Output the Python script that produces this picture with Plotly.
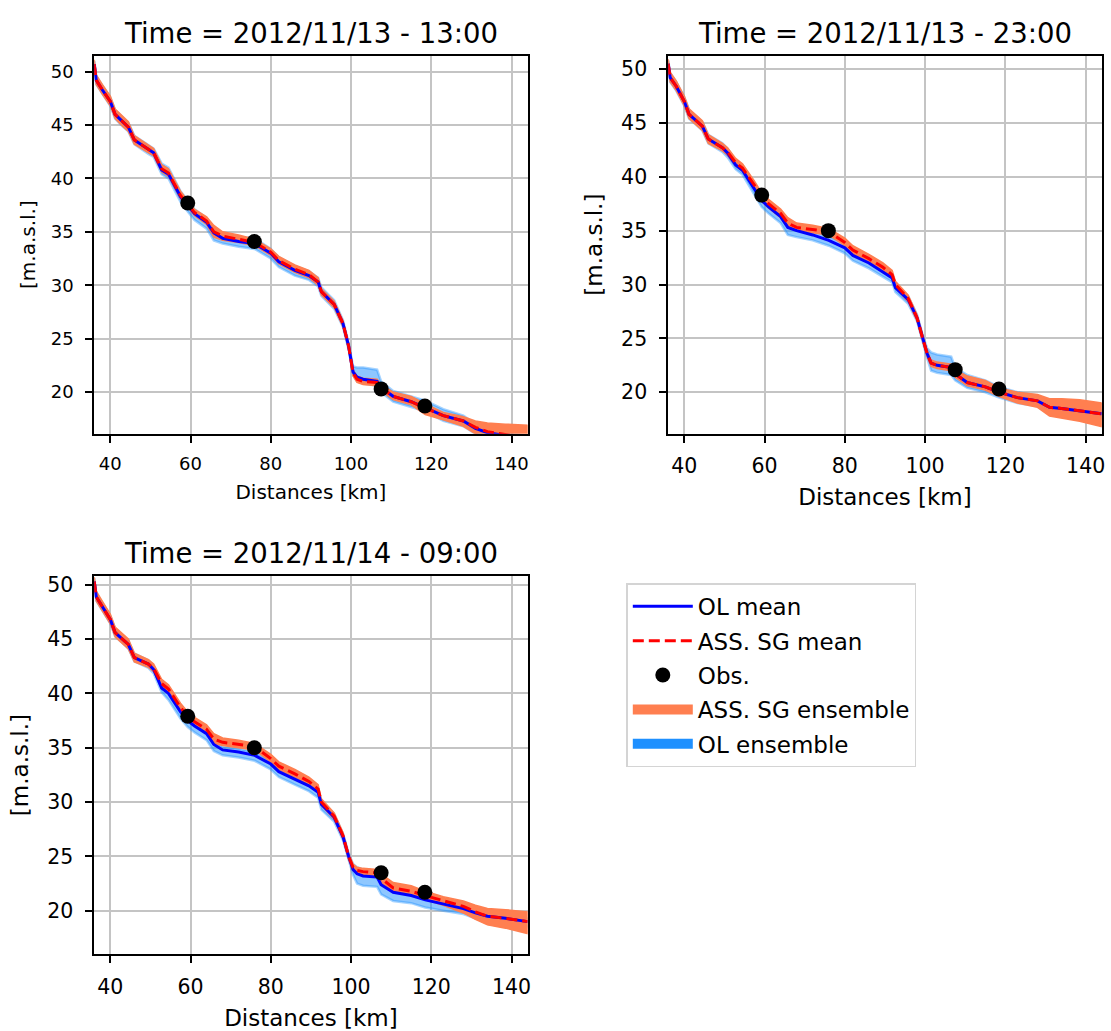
import plotly.graph_objects as go

# ---------------- data ----------------
dist_km = [36, 36.5, 38, 40, 41.2, 43, 44.5, 46, 49.5, 50.8,
           52.8, 54.5, 57.5, 59.3, 61, 64, 65.8, 68, 72, 76,
           80, 82, 86, 89.5, 91.8, 92.6, 95.8, 98, 99.4, 100.5,
           101.5, 103, 106.5, 107.5, 110.5, 115, 118.5, 123, 128, 131,
           134, 138.5, 144]

titles = ["Time = 2012/11/13 - 13:00", "Time = 2012/11/13 - 23:00", "Time = 2012/11/14 - 09:00"]

obs_km = [59.3, 75.9, 107.5, 118.4]
p1_obs = [37.7, 34.1, 20.3, 18.7]
p2_obs = [38.3, 35.0, 22.1, 20.3]
p3_obs = [37.9, 35.0, 23.5, 21.7]

# panel 1
p1_ol_mean = [50.7, 49.2, 48.3, 47.2, 46.0, 45.3, 44.8, 43.6, 42.7, 42.4,
              40.8, 40.4, 38.3, 37.5, 36.7, 35.9, 34.9, 34.4, 34.1, 33.9,
              33.0, 32.2, 31.4, 30.9, 30.3, 29.4, 28.2, 26.4, 24.3, 21.9,
              21.4, 21.2, 21.0, 20.4, 19.6, 19.1, 18.5, 17.8, 17.3, 16.6,
              16.2, 15.9, 15.6]
p1_ass_mean = [50.7, 49.2, 48.3, 47.2, 46.0, 45.3, 44.8, 43.6, 42.7, 42.4,
               40.9, 40.5, 38.4, 37.6, 36.8, 36.0, 35.0, 34.6, 34.3, 34.0,
               33.1, 32.3, 31.5, 31.0, 30.3, 29.4, 28.2, 26.4, 24.3, 21.8,
               21.2, 21.0, 20.9, 20.4, 19.6, 19.1, 18.5, 17.8, 17.3, 16.7,
               16.3, 16.0, 15.7]
p1_ol_up = [0.3, 0.4, 0.4, 0.4, 0.4, 0.4, 0.4, 0.4, 0.4, 0.4,
            0.6, 0.6, 0.5, 0.4, 0.4, 0.4, 0.4, 0.4, 0.4, 0.5,
            0.4, 0.4, 0.4, 0.4, 0.4, 0.4, 0.4, 0.3, 0.3, 0.5,
            0.9, 1.1, 1.1, 0.6, 0.5, 0.5, 0.7, 0.6, 0.5, 0.4,
            0.3, 0.3, 0.3]
p1_ol_dn = [0.3, 0.4, 0.4, 0.4, 0.4, 0.4, 0.4, 0.4, 0.4, 0.4,
            0.4, 0.4, 0.5, 0.6, 0.6, 0.6, 0.7, 0.5, 0.5, 0.5,
            0.5, 0.5, 0.5, 0.4, 0.4, 0.4, 0.4, 0.3, 0.3, 0.3,
            0.4, 0.4, 0.4, 0.4, 0.5, 0.5, 0.3, 0.5, 0.5, 0.5,
            0.5, 0.5, 0.5]
p1_ass_up = [0.4, 0.5, 0.5, 0.5, 0.5, 0.5, 0.5, 0.4, 0.4, 0.4,
             0.4, 0.4, 0.4, 0.3, 0.3, 0.4, 0.6, 0.4, 0.4, 0.3,
             0.3, 0.4, 0.4, 0.4, 0.4, 0.3, 0.3, 0.3, 0.3, 0.3,
             0.3, 0.3, 0.3, 0.3, 0.4, 0.5, 0.4, 0.3, 0.4, 0.6,
             0.8, 1.0, 1.2]
p1_ass_dn = [0.4, 0.4, 0.4, 0.4, 0.4, 0.4, 0.4, 0.4, 0.3, 0.3,
             0.3, 0.3, 0.3, 0.3, 0.3, 0.3, 0.5, 0.4, 0.3, 0.3,
             0.3, 0.3, 0.3, 0.3, 0.3, 0.3, 0.3, 0.3, 0.3, 0.3,
             0.3, 0.3, 0.3, 0.3, 0.3, 0.3, 0.6, 0.4, 0.5, 0.6,
             0.8, 0.9, 1.0]

# panel 2
p2_ol_mean = [50.5, 49.2, 48.4, 47.0, 45.8, 45.2, 44.7, 43.5, 42.7, 42.2,
              41.1, 40.6, 38.9, 37.8, 37.2, 36.3, 35.3, 35.0, 34.6, 34.1,
              33.4, 32.7, 32.0, 31.2, 30.6, 29.7, 28.6, 26.9, 25.0, 23.6,
              22.7, 22.5, 22.3, 21.7, 20.9, 20.5, 20.0, 19.5, 19.2, 18.6,
              18.5, 18.3, 18.0]
p2_ass_mean = [50.5, 49.2, 48.4, 47.0, 45.8, 45.2, 44.7, 43.5, 42.7, 42.3,
               41.3, 40.8, 39.2, 38.1, 37.5, 36.6, 35.7, 35.3, 35.1, 34.9,
               33.9, 33.2, 32.4, 31.6, 30.9, 30.0, 28.7, 26.9, 25.0, 23.6,
               22.7, 22.5, 22.3, 21.7, 20.9, 20.5, 20.0, 19.5, 19.2, 18.6,
               18.5, 18.3, 18.0]
p2_ol_up = [0.3, 0.4, 0.4, 0.4, 0.4, 0.4, 0.4, 0.4, 0.4, 0.4,
            0.4, 0.5, 0.5, 0.4, 0.4, 0.4, 0.4, 0.4, 0.4, 0.4,
            0.4, 0.4, 0.4, 0.4, 0.4, 0.4, 0.3, 0.3, 0.3, 0.5,
            1.0, 1.0, 1.0, 0.6, 0.7, 0.6, 0.5, 0.5, 0.5, 0.5,
            0.4, 0.3, 0.3]
p2_ol_dn = [0.3, 0.4, 0.4, 0.4, 0.4, 0.4, 0.4, 0.4, 0.4, 0.4,
            0.4, 0.4, 0.6, 0.6, 0.6, 0.6, 0.7, 0.6, 0.5, 0.5,
            0.5, 0.5, 0.5, 0.5, 0.4, 0.4, 0.4, 0.3, 0.3, 0.4,
            0.7, 0.7, 0.7, 0.6, 0.5, 0.5, 0.5, 0.5, 0.5, 0.5,
            0.5, 0.5, 0.5]
p2_ass_up = [0.4, 0.5, 0.5, 0.5, 0.5, 0.5, 0.5, 0.4, 0.4, 0.4,
             0.4, 0.4, 0.4, 0.4, 0.4, 0.4, 0.5, 0.4, 0.4, 0.3,
             0.4, 0.4, 0.4, 0.4, 0.4, 0.3, 0.3, 0.3, 0.3, 0.3,
             0.3, 0.3, 0.3, 0.4, 0.6, 0.6, 0.4, 0.5, 0.6, 0.8,
             0.9, 1.0, 1.0]
p2_ass_dn = [0.4, 0.4, 0.4, 0.4, 0.4, 0.4, 0.4, 0.4, 0.3, 0.3,
             0.3, 0.3, 0.3, 0.4, 0.4, 0.4, 0.4, 0.3, 0.3, 0.3,
             0.3, 0.3, 0.3, 0.3, 0.3, 0.3, 0.3, 0.3, 0.3, 0.3,
             0.3, 0.3, 0.3, 0.3, 0.3, 0.3, 0.4, 0.5, 0.6, 0.8,
             0.9, 1.0, 1.2]

# panel 3
p3_ol_mean = [50.3, 48.9, 48.0, 46.8, 45.6, 45.0, 44.5, 43.3, 42.7, 42.2,
              40.5, 40.0, 38.3, 37.5, 37.0, 36.3, 35.3, 34.8, 34.6, 34.3,
              33.5, 32.8, 32.1, 31.5, 30.9, 29.8, 28.6, 26.8, 25.0, 23.8,
              23.4, 23.2, 23.1, 22.4, 21.7, 21.4, 21.0, 20.6, 20.2, 19.8,
              19.5, 19.3, 19.0]
p3_ass_mean = [50.3, 48.9, 48.0, 46.8, 45.6, 45.0, 44.5, 43.3, 42.7, 42.3,
               40.9, 40.4, 38.7, 37.9, 37.4, 36.7, 35.8, 35.5, 35.3, 35.1,
               34.0, 33.3, 32.6, 31.9, 31.2, 30.0, 28.7, 26.9, 25.0, 24.0,
               23.7, 23.6, 23.5, 23.0, 22.1, 21.8, 21.4, 20.9, 20.4, 19.9,
               19.5, 19.3, 19.0]
p3_ol_up = [0.3, 0.35, 0.35, 0.35, 0.35, 0.35, 0.35, 0.35, 0.35, 0.35,
            0.35, 0.35, 0.3, 0.3, 0.3, 0.3, 0.3, 0.3, 0.3, 0.3,
            0.3, 0.3, 0.3, 0.3, 0.3, 0.3, 0.3, 0.3, 0.3, 0.5,
            0.6, 0.6, 0.6, 0.4, 0.4, 0.4, 0.5, 0.4, 0.4, 0.3,
            0.3, 0.3, 0.3]
p3_ol_dn = [0.3, 0.35, 0.35, 0.35, 0.35, 0.35, 0.35, 0.35, 0.35, 0.35,
            0.4, 0.6, 0.6, 0.6, 0.6, 0.6, 0.6, 0.5, 0.5, 0.5,
            0.5, 0.5, 0.5, 0.5, 0.5, 0.5, 0.4, 0.3, 0.3, 0.5,
            0.9, 0.9, 0.9, 0.9, 0.8, 0.7, 0.7, 0.6, 0.5, 0.5,
            0.5, 0.5, 0.5]
p3_ass_up = [0.4, 0.5, 0.5, 0.5, 0.5, 0.5, 0.5, 0.4, 0.4, 0.4,
             0.4, 0.4, 0.4, 0.4, 0.4, 0.4, 0.5, 0.4, 0.4, 0.3,
             0.4, 0.4, 0.4, 0.4, 0.4, 0.3, 0.3, 0.3, 0.3, 0.3,
             0.3, 0.3, 0.3, 0.4, 0.5, 0.5, 0.4, 0.4, 0.5, 0.6,
             0.7, 0.8, 0.9]
p3_ass_dn = [0.4, 0.4, 0.4, 0.4, 0.4, 0.4, 0.4, 0.4, 0.3, 0.3,
             0.3, 0.3, 0.3, 0.3, 0.3, 0.3, 0.4, 0.3, 0.3, 0.3,
             0.3, 0.3, 0.3, 0.3, 0.3, 0.3, 0.3, 0.3, 0.3, 0.3,
             0.3, 0.3, 0.3, 0.4, 0.4, 0.4, 0.4, 0.4, 0.6, 0.7,
             0.8, 0.9, 1.1]

y_ranges = [[16.1, 51.5], [16.15, 51.25], [16.0, 50.8]]
x_range = [36, 144]

panels = [
    (p1_ol_mean, p1_ol_up, p1_ol_dn, p1_ass_mean, p1_ass_up, p1_ass_dn, p1_obs),
    (p2_ol_mean, p2_ol_up, p2_ol_dn, p2_ass_mean, p2_ass_up, p2_ass_dn, p2_obs),
    (p3_ol_mean, p3_ol_up, p3_ol_dn, p3_ass_mean, p3_ass_up, p3_ass_dn, p3_obs),
]

# ---------------- layout geometry ----------------
W, H = 1111, 1031
FONT = "DejaVu Sans"
boxes = [  # left, right, top, bottom (pixels)
    (94.5, 529.0, 52.7, 432.0),
    (670.0, 1104.7, 52.7, 432.0),
    (94.5, 529.0, 574.7, 954.0),
]
tick_sizes = [18, 20.5, 20.5]
label_sizes = [20, 23, 23]
xlab_standoff = [12, 12, 12]
ylab_standoff = [10, 12, 12]

fig = go.Figure()

for i, (olm, olu, old, asm, asu, asd, obs) in enumerate(panels):
    xa = "x" if i == 0 else f"x{i+1}"
    ya = "y" if i == 0 else f"y{i+1}"
    first = (i == 0)
    ol_hi = [m + u for m, u in zip(olm, olu)]
    ol_lo = [m - d for m, d in zip(olm, old)]
    as_hi = [m + u for m, u in zip(asm, asu)]
    as_lo = [m - d for m, d in zip(asm, asd)]
    fig.add_trace(go.Scatter(
        x=dist_km + dist_km[::-1], y=ol_hi + ol_lo[::-1],
        fill="toself", fillcolor="rgba(30,144,255,0.5)",
        line=dict(color="rgba(30,144,255,0.4)", width=2.5),
        mode="lines", name="OL ensemble", legendgroup="g5",
        showlegend=False, xaxis=xa, yaxis=ya, hoverinfo="skip"))
    fig.add_trace(go.Scatter(
        x=dist_km + dist_km[::-1], y=as_hi + as_lo[::-1],
        fill="toself", fillcolor="#FF7F50",
        line=dict(color="#FF7F50", width=1.5),
        mode="lines", name="ASS. SG ensemble", legendgroup="g4",
        showlegend=False, xaxis=xa, yaxis=ya, hoverinfo="skip"))
    fig.add_trace(go.Scatter(
        x=dist_km, y=olm, mode="lines",
        line=dict(color="blue", width=3),
        name="OL mean", legendrank=1, legendgroup="g1",
        showlegend=first, xaxis=xa, yaxis=ya))
    fig.add_trace(go.Scatter(
        x=dist_km, y=asm, mode="lines",
        line=dict(color="red", width=3, dash="11px,5px"),
        name="ASS. SG mean", legendrank=2, legendgroup="g2",
        showlegend=first, xaxis=xa, yaxis=ya))
    fig.add_trace(go.Scatter(
        x=obs_km, y=obs, mode="markers",
        marker=dict(color="black", size=15),
        name="Obs.", legendrank=3, legendgroup="g3",
        showlegend=first, xaxis=xa, yaxis=ya))

# legend patches for the two ensembles (solid colour swatches, no data drawn)
fig.add_trace(go.Scatter(x=[None], y=[None], mode="lines",
                         line=dict(color="#FF7F50", width=17),
                         name="ASS. SG ensemble", legendrank=4, legendgroup="g4"))
fig.add_trace(go.Scatter(x=[None], y=[None], mode="lines",
                         line=dict(color="#1E90FF", width=17),
                         name="OL ensemble", legendrank=5, legendgroup="g5"))

layout = dict(
    width=W, height=H, autosize=False,
    margin=dict(l=0, r=0, t=0, b=0),
    paper_bgcolor="white", plot_bgcolor="white",
    font=dict(family=FONT, color="black"),
    showlegend=True,
    legend=dict(
        x=628 / W, y=1 - 582 / H, xanchor="left", yanchor="top",
        bgcolor="white", bordercolor="#d4d4d4", borderwidth=1.5,
        font=dict(family=FONT, size=23, color="black"),
        itemwidth=60, tracegroupgap=1.5, traceorder="grouped",
    ),
    annotations=[],
)

for i, (l, r, t, b) in enumerate(boxes):
    sx = "" if i == 0 else str(i + 1)
    common = dict(
        showline=True, linecolor="black", linewidth=1.8, mirror=True,
        ticks="outside", ticklen=7, tickwidth=1.5, tickcolor="black",
        showgrid=True, gridcolor="#c4c4c4", gridwidth=1.8, zeroline=False,
        tickfont=dict(family=FONT, size=tick_sizes[i], color="black"),
    )
    layout["xaxis" + sx] = dict(
        common, domain=[l / W, r / W], range=x_range,
        anchor="y" + sx, tickvals=[40, 60, 80, 100, 120, 140],
        ticklabelstandoff=6,
        title=dict(text="Distances [km]", standoff=xlab_standoff[i],
                   font=dict(family=FONT, size=label_sizes[i], color="black")),
    )
    layout["yaxis" + sx] = dict(
        common, domain=[1 - b / H, 1 - t / H], range=y_ranges[i],
        anchor="x" + sx, tickvals=[20, 25, 30, 35, 40, 45, 50],
        ticklabelstandoff=8,
        title=dict(text="[m.a.s.l.]", standoff=ylab_standoff[i],
                   font=dict(family=FONT, size=label_sizes[i], color="black")),
    )
    layout["annotations"].append(dict(
        text=titles[i], xref="paper", yref="paper",
        x=(l + r) / 2 / W, y=1 - (t - 23) / H, xanchor="center", yanchor="middle",
        showarrow=False, font=dict(family=FONT, size=27.5, color="black")))

fig.update_layout(**layout)
fig.write_html("out.html")
